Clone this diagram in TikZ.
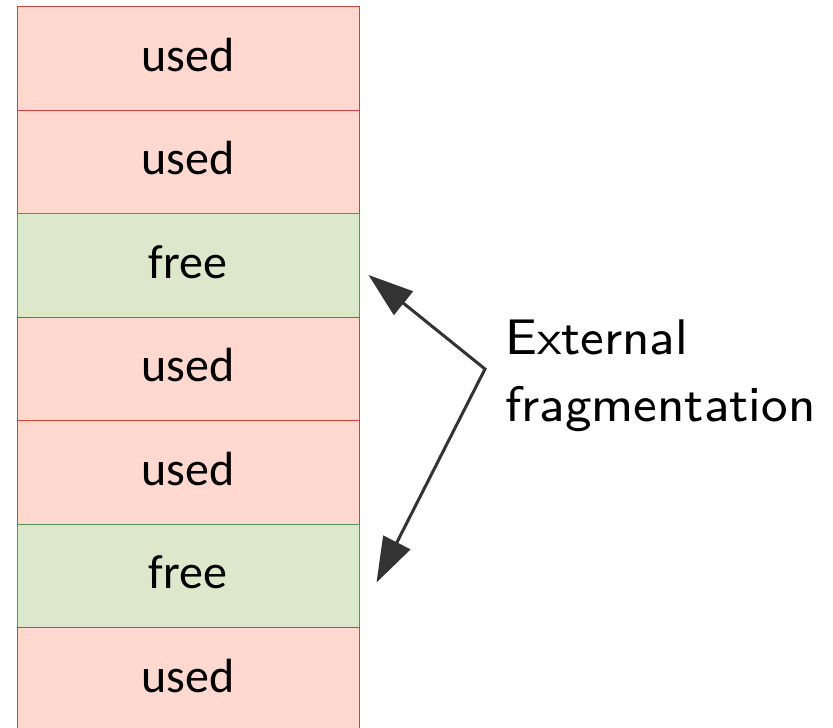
\documentclass[tikz,border=0pt]{standalone}
\usepackage{fontspec}
\newfontfamily\cellfont{Carlito}
\newfontfamily\labelfont{lmsans8-regular.otf}
\usepackage{tikz}
\usetikzlibrary{arrows.meta,positioning}
\usepackage{xcolor}
\definecolor{used_fill}{RGB}{255,216,207}
\definecolor{used_line}{RGB}{214,64,58}
\definecolor{free_fill}{RGB}{221,231,203}
\definecolor{free_line}{RGB}{84,150,84}
\definecolor{arrow_gray}{RGB}{51,51,51}

\begin{document}
\begin{tikzpicture}[x=1pt,y=-1pt,node distance=103.5pt,
                    every node/.style={inner sep=0pt}]
    \tikzstyle{cell}=[rectangle,minimum width=342pt,minimum height=103.5pt,line width=1pt,
                      font=\cellfont\fontsize{48}{50}\selectfont,text height=35pt,text depth=10pt]
    \tikzstyle{usedcell}=[cell,fill=used_fill,draw=used_line]
    \tikzstyle{freecell}=[cell,fill=free_fill,draw=free_line]
    \tikzstyle{fragarrow}=[{Triangle[length=45pt,width=30pt]}-{Triangle[length=45pt,width=30pt]},
                           line width=3pt,draw=arrow_gray]

    \useasboundingbox (0,0) rectangle (833,728);
    \clip (0,0) rectangle (833,728);

    \node[usedcell] (b1) at (188,58.5) {used};
    \node[usedcell] (b2)[below of=b1]  {used};
    \node[freecell] (b3)[below of=b2]  {free};
    \node[usedcell] (b4)[below of=b3]  {used};
    \node[usedcell] (b5)[below of=b4]  {used};
    \node[freecell] (b6)[below of=b5]  {free};
    \node[usedcell] (b7)[below of=b6]  {used};

    \node[font=\labelfont\fontsize{50}{67}\selectfont,align=left,anchor=north west]
        (extfrag) at (505,320) {External\\fragmentation};
    \coordinate (joint) at (485,369);

    % both arrows leave from the same corner
    \draw[fragarrow] ([xshift=9pt,yshift=-9.5pt]b3.east) -- (joint)
        -- ([xshift=17pt,yshift=-6.5pt]b6.east);
\end{tikzpicture}
\end{document}
